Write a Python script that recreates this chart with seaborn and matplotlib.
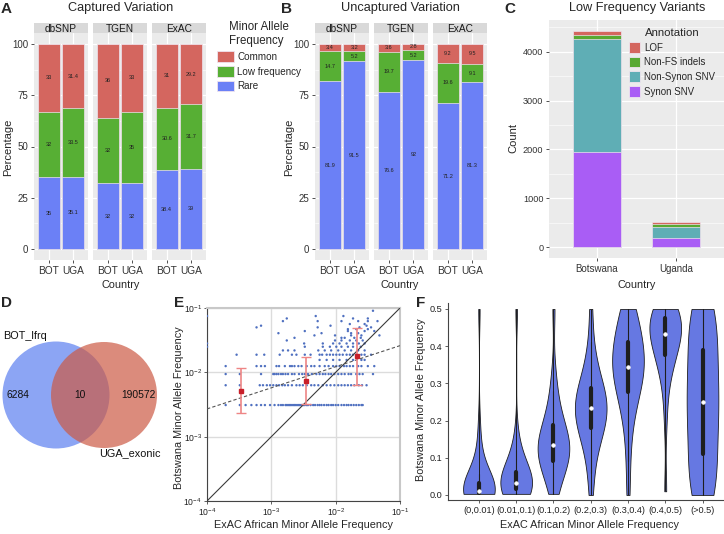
import numpy as np
import pandas as pd
import seaborn as sns
import matplotlib.pyplot as plt
from matplotlib.patches import Patch, Circle
from matplotlib.ticker import LogLocator, FormatStrFormatter, NullLocator

#############
### Dados ###
#############

# A / B - percentagem por base de dados (BOT, UGA)
countries = ['BOT', 'UGA']
databases = ['dbSNP', 'TGEN', 'ExAC']
maf_labels = ['Common', 'Low frequency', 'Rare']

cap_rare = {'dbSNP': [35, 35.1], 'TGEN': [32, 32], 'ExAC': [38.4, 39]}
cap_low = {'dbSNP': [32, 33.5], 'TGEN': [32, 35], 'ExAC': [30.6, 31.7]}
cap_common = {'dbSNP': [33, 31.4], 'TGEN': [36, 33], 'ExAC': [31, 29.2]}

unc_rare = {'dbSNP': [81.9, 91.5], 'TGEN': [76.6, 92], 'ExAC': [71.2, 81.3]}
unc_low = {'dbSNP': [14.7, 5.2], 'TGEN': [19.7, 5.2], 'ExAC': [19.6, 9.1]}
unc_common = {'dbSNP': [3.4, 3.2], 'TGEN': [3.6, 2.8], 'ExAC': [9.2, 9.5]}

# C - contagens de variantes de baixa frequencia
c_countries = ['Botswana', 'Uganda']
c_annot = ['LOF', 'Non-FS indels', 'Non-Synon SNV', 'Synon SNV']
c_synon = [1940, 180]
c_nonsynon = [2320, 240]
c_nonfs = [90, 50]
c_lof = [80, 45]

# D - venn
venn_sets = ['BOT_lfrq', 'UGA_exonic']
venn_counts = [6284, 10, 190572]

# E - Botswana MAF (niveis) -> log10 da MAF ExAC
e_rows = {
    0.0031: [-3.71, -3.49, -3.40, -3.31, -3.23, -3.16, -3.10, -3.02, -2.95, -2.89, -2.85, -2.82,
             -2.78, -2.76, -2.74, -2.72, -2.70, -2.68, -2.66, -2.64, -2.62, -2.60, -2.58, -2.56,
             -2.54, -2.52, -2.50, -2.48, -2.45, -2.43, -2.39, -2.35, -2.32, -2.28, -2.25, -2.22,
             -2.18, -2.14, -2.11, -2.07, -2.04, -2.00, -1.96, -1.91, -1.87, -1.83, -1.80, -1.76,
             -1.72, -1.68, -1.64, -1.60, -1.58],
    0.0063: [-3.71, -3.49, -3.18, -3.13, -3.07, -3.02, -2.97, -2.92, -2.88, -2.83, -2.79, -2.74,
             -2.68, -2.61, -2.56, -2.51, -2.45, -2.38, -2.33, -2.27, -2.20, -2.14, -2.08, -2.02,
             -1.96, -1.91, -1.86, -1.81, -1.76, -1.71, -1.64, -1.59, -1.52],
    0.0094: [-3.71, -3.49, -3.16, -2.97, -2.95, -2.92, -2.89, -2.85, -2.82, -2.78, -2.74, -2.68,
             -2.64, -2.57, -2.52, -2.48, -2.43, -2.37, -2.30, -2.25, -2.20, -2.16, -2.11, -2.07,
             -2.02, -1.96, -1.91, -1.86, -1.80, -1.76, -1.68, -1.63, -1.58, -1.42],
    0.0125: [-3.71, -3.23, -3.16, -3.10, -2.92, -2.88, -2.79, -2.71, -2.68, -2.64, -2.58, -2.53,
             -2.45, -2.38, -2.33, -2.25, -2.17, -2.11, -2.04, -1.99, -1.94, -1.87, -1.83, -1.78,
             -1.73, -1.65, -1.60, -1.50, -1.40],
    0.0156: [-2.25, -2.14, -2.04, -1.94, -1.83, -1.73, -1.60, -1.55],
    0.0188: [-3.54, -3.23, -3.11, -2.87, -2.68, -2.61, -2.48, -2.39, -2.25, -2.21, -2.14, -2.09,
             -2.04, -1.99, -1.94, -1.89, -1.83, -1.78, -1.73, -1.68, -1.60, -1.55, -1.45],
    0.0219: [-2.82, -2.74, -2.64, -2.27, -2.17, -2.07, -1.96, -1.86, -1.76, -1.65, -1.55],
    0.025: [-4.0, -2.48, -2.20, -2.09, -1.99, -1.91, -1.81, -1.73, -1.61],
    0.0281: [-4.0, -2.49, -2.20, -2.04, -1.94, -1.83, -1.73, -1.64, -1.55],
    0.0313: [-2.76, -2.01, -1.91, -1.78, -1.68, -1.58],
    0.0344: [-2.64, -1.91, -1.86, -1.71, -1.61],
    0.0375: [-2.33, -2.01, -1.76, -1.60, -1.32],
    0.0406: [-2.89, -2.22, -1.76, -1.65],
    0.0438: [-2.48, -1.81, -1.55, -1.40],
    0.0469: [-1.81, -1.68, -1.50],
    0.05: [-3.23, -2.28, -1.63, -1.45],
    0.0531: [-3.16, -2.08, -1.52],
    0.0563: [-1.78, -1.55],
    0.0625: [-2.82, -2.28, -1.91, -1.65, -1.50, -1.35],
    0.0688: [-2.76, -1.73, -1.50],
    0.075: [-4.0, -2.31, -1.88],
    0.0906: [-1.42],
}
# medias com barras de erro por faixa
eb_x = [3.4e-4, 3.5e-3, 2.14e-2]
eb_mid = [5.15e-3, 7.4e-3, 1.77e-2]
eb_lo = [2.3e-3, 3.2e-3, 6.45e-3]
eb_hi = [1.17e-2, 1.73e-2, 4.85e-2]
# linha de regressao (extremos)
reg_x = [1e-4, 1e-1]
reg_y = [2.7e-3, 2.6e-2]

# F - violinos (valores representativos por faixa)
f_bins = ['(0,0.01)', '(0.01,0.1)', '(0.1,0.2)', '(0.2,0.3)', '(0.3,0.4)', '(0.4,0.5)', '(>0.5)']
f_v1 = [0.003, 0.003, 0.003, 0.003, 0.003, 0.006, 0.006, 0.006, 0.006, 0.009, 0.009, 0.009,
        0.009, 0.009, 0.012, 0.012, 0.016, 0.019, 0.022, 0.025, 0.031, 0.041, 0.056, 0.075,
        0.094, 0.13, 0.19, 0.5]
f_v2 = [0.003, 0.006, 0.009, 0.009, 0.012, 0.012, 0.016, 0.019, 0.022, 0.025, 0.028, 0.031,
        0.031, 0.034, 0.038, 0.044, 0.05, 0.056, 0.063, 0.072, 0.084, 0.1, 0.12, 0.16, 0.5]
f_v3 = [0.003, 0.025, 0.05, 0.063, 0.075, 0.084, 0.09, 0.1, 0.106, 0.113, 0.119, 0.125, 0.131,
        0.138, 0.144, 0.15, 0.159, 0.169, 0.178, 0.19, 0.206, 0.225, 0.25, 0.28, 0.33, 0.5]
f_v4 = [0.0, 0.06, 0.1, 0.13, 0.15, 0.165, 0.178, 0.185, 0.194, 0.203, 0.213, 0.222, 0.23,
        0.238, 0.245, 0.253, 0.263, 0.272, 0.281, 0.29, 0.3, 0.318, 0.34, 0.37, 0.41, 0.5]
f_v5 = [0.0, 0.09, 0.16, 0.2, 0.23, 0.255, 0.27, 0.28, 0.295, 0.31, 0.32, 0.33, 0.335, 0.34,
        0.35, 0.36, 0.375, 0.385, 0.395, 0.4, 0.41, 0.42, 0.435, 0.45, 0.47, 0.49, 0.5, 0.5]
f_v6 = [0.01, 0.2, 0.28, 0.32, 0.345, 0.36, 0.372, 0.385, 0.395, 0.405, 0.415, 0.422, 0.43,
        0.438, 0.445, 0.452, 0.458, 0.465, 0.47, 0.478, 0.485, 0.49, 0.495, 0.5, 0.5, 0.5]
f_v7 = [0.0, 0.0, 0.01, 0.02, 0.04, 0.07, 0.1, 0.12, 0.14, 0.17, 0.2, 0.22, 0.24, 0.25, 0.26,
        0.28, 0.31, 0.34, 0.36, 0.38, 0.4, 0.43, 0.46, 0.48, 0.49, 0.5, 0.5]
f_values = [f_v1, f_v2, f_v3, f_v4, f_v5, f_v6, f_v7]

##############
### Estilo ###
##############

sns.set_theme(style='white')
plt.rcParams['font.family'] = ['Liberation Sans', 'DejaVu Sans']

RED, GREEN, BLUE = '#D4665F', '#57AF34', '#6B80F6'
C_COLORS = ['#D4665F', '#58A932', '#5FAEB5', '#A95DF5']
PANEL_BG, STRIP_BG = '#EBEBEB', '#D9D9D9'
EDGE = '#EFE4EF'

W, H = 724, 534
fig = plt.figure(figsize=(W / 100, H / 100), dpi=100)


def px_box(l, t, r, b):
    return [l / W, 1 - b / H, (r - l) / W, (b - t) / H]


def ftxt(x, y, s, **kw):
    fig.text(x / W, 1 - y / H, s, **kw)


def ggplot_ax(ax):
    ax.set_facecolor(PANEL_BG)
    for sp in ax.spines.values():
        sp.set_visible(False)
    ax.set_axisbelow(True)
    ax.grid(True, which='major', color='white', lw=0.9)
    ax.grid(True, which='minor', axis='y', color='white', lw=0.4)
    ax.tick_params(which='major', length=2.5, color='#333333', width=0.6, pad=1.5,
                   bottom=True, left=True, labelcolor='#333333')
    ax.tick_params(which='minor', length=0)
    ax.set_xlabel('')
    ax.set_ylabel('')


#################################
### A e B - barras empilhadas ###
#################################

def painel_empilhado(spans, rare, low, common):
    for j, (db, (l, r)) in enumerate(zip(databases, spans)):
        ax = fig.add_axes(px_box(l, 33, r, 260))
        df = pd.DataFrame({'Country': countries, 'Rare': rare[db], 'Low': low[db], 'Common': common[db]})
        df['Low_top'] = df['Rare'] + df['Low']
        df['Common_top'] = df['Low_top'] + df['Common']
        for col, cor in [('Common_top', RED), ('Low_top', GREEN), ('Rare', BLUE)]:
            sns.barplot(data=df, x='Country', y=col, color=cor, width=0.9, saturation=1,
                        edgecolor=EDGE, linewidth=0.5, ax=ax)
        for i in range(2):
            for base, v in [(0, df['Rare'][i]), (df['Rare'][i], df['Low'][i]),
                            (df['Low_top'][i], df['Common'][i])]:
                ax.text(i, base + v / 2, f'{v:g}', ha='center', va='center',
                        fontsize=4, color='#222222')
        ggplot_ax(ax)
        ax.set_xlim(-0.6, 1.6)
        ax.set_ylim(-5.4, 105.4)
        ax.set_yticks([0, 25, 50, 75, 100])
        ax.set_yticks([12.5, 37.5, 62.5, 87.5], minor=True)
        ax.tick_params(axis='x', labelsize=7.3)
        ax.tick_params(axis='y', labelsize=7)
        if j > 0:
            ax.tick_params(axis='y', left=False, labelleft=False)
        sax = fig.add_axes(px_box(l, 23, r, 33))
        sax.set_facecolor(STRIP_BG)
        sax.set_xticks([])
        sax.set_yticks([])
        for sp in sax.spines.values():
            sp.set_visible(False)
        sax.text(0.5, 0.45, db, ha='center', va='center', fontsize=7.3, color='#1a1a1a',
                 transform=sax.transAxes)


painel_empilhado([(34, 88), (93, 147), (152, 206)], cap_rare, cap_low, cap_common)
painel_empilhado([(315, 369), (374, 428), (433, 487)], unc_rare, unc_low, unc_common)

ftxt(121, 8, 'Captured Variation', ha='center', va='center', fontsize=9.2)
ftxt(400, 8, 'Uncaptured Variation', ha='center', va='center', fontsize=9.2)
for x in [8, 289]:
    ftxt(x, 147, 'Percentage', ha='center', va='center', rotation=90, fontsize=8)
for x in [121, 400]:
    ftxt(x, 285, 'Country', ha='center', va='center', fontsize=7.8)

fig.legend(handles=[Patch(facecolor=c, edgecolor=EDGE, lw=0.6) for c in [RED, GREEN, BLUE]],
           labels=maf_labels, title='Minor Allele\nFrequency', loc='upper left',
           bbox_to_anchor=(217 / W, 1 - 21 / H), frameon=False, fontsize=7.1,
           title_fontsize=8.3, handlelength=1.75, handleheight=1.3, labelspacing=0.42,
           handletextpad=0.3, borderpad=0, borderaxespad=0)

#########################################
### C - variantes de baixa frequencia ###
#########################################

axC = fig.add_axes(px_box(549, 20, 724, 258))
dfC = pd.DataFrame({'Country': c_countries, 'Synon': c_synon, 'NonSyn': c_nonsynon,
                    'NonFS': c_nonfs, 'LOF': c_lof})
dfC['NonSyn_top'] = dfC['Synon'] + dfC['NonSyn']
dfC['NonFS_top'] = dfC['NonSyn_top'] + dfC['NonFS']
dfC['LOF_top'] = dfC['NonFS_top'] + dfC['LOF']
for col, cor in zip(['LOF_top', 'NonFS_top', 'NonSyn_top', 'Synon'], C_COLORS):
    sns.barplot(data=dfC, x='Country', y=col, color=cor, width=0.6, saturation=1,
                edgecolor=EDGE, linewidth=0.5, ax=axC)
ggplot_ax(axC)
axC.set_xlim(-0.6, 1.6)
axC.set_ylim(-222, 4652)
axC.set_yticks([0, 1000, 2000, 3000, 4000])
axC.set_yticks([500, 1500, 2500, 3500, 4500], minor=True)
axC.tick_params(axis='x', labelsize=7)
axC.tick_params(axis='y', labelsize=6.6)
axC.legend(handles=[Patch(facecolor=c, edgecolor=EDGE, lw=0.6) for c in C_COLORS],
           labels=c_annot, title='Annotation', loc='upper left',
           bbox_to_anchor=(629 / W, 1 - 28 / H), bbox_transform=fig.transFigure,
           frameon=False, fontsize=7, title_fontsize=8.2, handlelength=1.1,
           handleheight=1.3, labelspacing=0.42, handletextpad=0.45, borderpad=0,
           borderaxespad=0)
ftxt(637, 8, 'Low Frequency Variants', ha='center', va='center', fontsize=9.2)
ftxt(513, 138, 'Count', ha='center', va='center', rotation=90, fontsize=8)
ftxt(637, 285, 'Country', ha='center', va='center', fontsize=7.8)

################
### D - Venn ###
################

axD = fig.add_axes(px_box(0, 290, 165, 470))
axD.set_xlim(0, 165)
axD.set_ylim(470, 290)
axD.axis('off')
axD.add_patch(Circle((56, 395), 53.5, facecolor='#5B7FF0', alpha=0.7, lw=0))
axD.add_patch(Circle((104, 395), 53, facecolor='#CC5A45', alpha=0.7, lw=0))
for x, n in zip([18, 80, 138], venn_counts):
    axD.text(x, 395, str(n), ha='center', va='center', fontsize=7.4, color='#111111')
axD.text(3, 336, venn_sets[0], ha='left', va='center', fontsize=7.8, color='#111111')
axD.text(99, 453, venn_sets[1], ha='left', va='center', fontsize=7.8, color='#111111')

#####################
### E - dispersao ###
#####################

dfE = pd.concat([pd.DataFrame({'exac': 10 ** np.array(v), 'bot': y}) for y, v in e_rows.items()])
axE = fig.add_axes(px_box(207, 308, 400, 501))
axE.set_xscale('log')
axE.set_yscale('log')
axE.set_xlim(1e-4, 1e-1)
axE.set_ylim(1e-4, 1e-1)
axE.set_axisbelow(True)
axE.grid(True, which='major', color='#DCDCDC', lw=1)
sns.scatterplot(data=dfE, x='exac', y='bot', s=3, color='#4F70C0', edgecolor='none',
                linewidth=0, ax=axE, zorder=3, legend=False)
axE.plot([1e-4, 1e-1], [1e-4, 1e-1], color='#3a3a3a', lw=0.8, zorder=4)
axE.plot(reg_x, reg_y, color='#555555', lw=0.8, ls=(0, (3, 2)), zorder=4)
axE.errorbar(eb_x, eb_mid,
             yerr=[np.array(eb_mid) - np.array(eb_lo), np.array(eb_hi) - np.array(eb_mid)],
             fmt='s', ms=2.5, color='#C8202A', ecolor='#EE8585', elinewidth=1.2,
             capsize=3.5, capthick=1, zorder=5)
for ax_ in [axE.xaxis, axE.yaxis]:
    ax_.set_major_locator(LogLocator(base=10, numticks=10))
    ax_.set_minor_locator(NullLocator())
axE.tick_params(labelsize=6.2, length=2.5, width=0.6, color='#444444', pad=1.2,
                bottom=True, left=True, labelcolor='#222222')
axE.set_xlabel('')
axE.set_ylabel('')
for s in ['left', 'bottom']:
    axE.spines[s].set_color('#444444')
    axE.spines[s].set_linewidth(0.8)
for s in ['top', 'right']:
    axE.spines[s].set_color('#C8C8C8')
    axE.spines[s].set_linewidth(1.5)
ftxt(179, 408, 'Botswana Minor Allele Frequency', ha='center', va='center', rotation=90,
     fontsize=7.8)
ftxt(303, 525, 'ExAC African Minor Allele Frequency', ha='center', va='center', fontsize=7.8)

####################
### F - violinos ###
####################

dfF = pd.concat([pd.DataFrame({'bin': b, 'maf': v}) for b, v in zip(f_bins, f_values)])
axF = fig.add_axes(px_box(448, 303, 723, 500))
sns.violinplot(data=dfF, x='bin', y='maf', order=f_bins, color='#6678E2', saturation=1,
               linecolor='#1e1e1e', linewidth=0.6, cut=0, density_norm='width', width=0.85,
               inner='box', inner_kws=dict(box_width=3, whis_width=0.8, marker='o'), ax=axF)
# linha fina do minimo ao maximo
for i, v in enumerate(f_values):
    axF.vlines(i, min(v), max(v), color='#1e1e1e', lw=0.7, zorder=1.5)
axF.set_xlim(-0.83, 6.55)
axF.set_ylim(-0.0135, 0.516)
axF.set_yticks([0, 0.1, 0.2, 0.3, 0.4, 0.5])
axF.yaxis.set_major_formatter(FormatStrFormatter('%.1f'))
axF.tick_params(labelsize=6.6, length=2.5, width=0.6, color='#444444', pad=1.5,
                bottom=True, left=True, labelcolor='#222222')
sns.despine(ax=axF)
for s in ['left', 'bottom']:
    axF.spines[s].set_color('#444444')
    axF.spines[s].set_linewidth(0.8)
axF.set_xlabel('')
axF.set_ylabel('')
ftxt(421, 400, 'Botswana Minor Allele Frequency', ha='center', va='center', rotation=90,
     fontsize=7.8)
ftxt(590, 525, 'ExAC African Minor Allele Frequency', ha='center', va='center', fontsize=7.8)

# letras dos paineis
for letra, x, y in [('A', 6, 9), ('B', 287, 9), ('C', 510, 9), ('D', 6, 303), ('E', 179, 303),
                    ('F', 421, 303)]:
    ftxt(x, y, letra, ha='center', va='center', fontsize=11, fontweight='bold')

fig.savefig('out.png', dpi=100)
